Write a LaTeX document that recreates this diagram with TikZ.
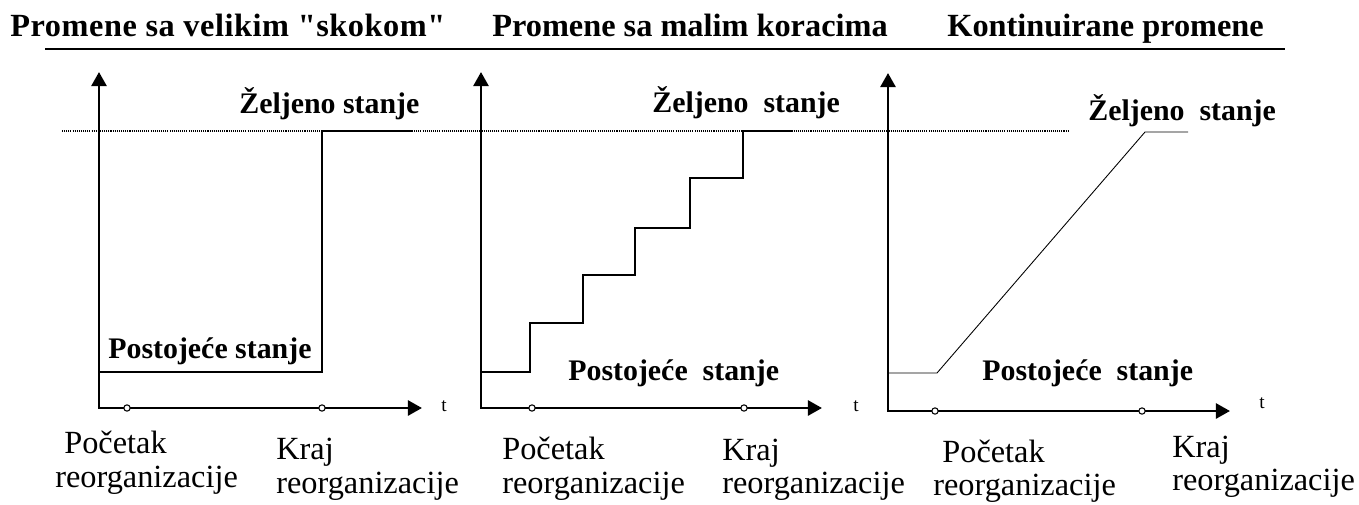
\documentclass[tikz,border=0pt]{standalone}
\usepackage{fontspec}
\setmainfont{Liberation Serif}
\newfontfamily\razmaknut{Liberation Serif}[LetterSpace=1.7]
\usetikzlibrary{arrows.meta}

\begin{document}
\begin{tikzpicture}[x=0.02cm,y=-0.02cm,>={Triangle[length=8pt,width=8.5pt]},
    axis/.style={<->,line width=1.6pt},
    curve/.style={line width=0.6pt},
    tdot/.style={circle,draw,fill=white,inner sep=0pt,minimum size=3.6pt,line width=0.6pt},
    title/.style={font=\bfseries\fontsize{18.4}{20}\selectfont,anchor=base west,inner sep=0pt},
    state/.style={font=\bfseries\fontsize{17}{19}\selectfont,anchor=base west,inner sep=0pt},
    lbl/.style={font=\fontsize{18.4}{19}\selectfont,anchor=base west,inner sep=0pt},
    tlbl/.style={font=\fontsize{11}{12}\selectfont,anchor=base west,inner sep=0pt}]
    \useasboundingbox (0,0) rectangle (1359,504);
    % naslovi
    \node[title] (n1) at (10,36) {\razmaknut\bfseries Promene sa velikim \symbol{34}skokom\symbol{34}};
    \node[title] (n2) at (492,36) {Promene sa malim koracima};
    \node[title] (n3) at (947,36) {Kontinuirane promene};
    \coordinate (l0) at (45,49);
    \coordinate (l1) at (1285,49);
    \draw[line width=0.9pt] (l0) -- (l1);
    % zeljeno stanje
    \coordinate (d0) at (62,131);
    \coordinate (d1) at (1068,131);
    \draw[line width=0.6pt,dash pattern=on 0.6pt off 0.6pt] (d0) -- (d1);
    % ose
    \coordinate (o1) at (99,408);
    \coordinate (y1) at (99,72);
    \coordinate (x1) at (422,408);
    \coordinate (o2) at (481,408);
    \coordinate (y2) at (481,72);
    \coordinate (x2) at (822,408);
    \coordinate (o3) at (888,411);
    \coordinate (y3) at (888,73);
    \coordinate (x3) at (1230,411);
    \draw[axis] (y1) -- (o1) -- (x1);
    \draw[axis] (y2) -- (o2) -- (x2);
    \draw[axis] (y3) -- (o3) -- (x3);
    \node[tlbl] (t1) at (441,411) {t};
    \node[tlbl] (t2) at (853,411) {t};
    \node[tlbl] (t3) at (1259,408) {t};
    % veliki skok
    \coordinate (s1) at (99,372);
    \coordinate (z1) at (412,131);
    \draw[curve] (s1) -| (322,131) -- (z1);
    % mali koraci
    \coordinate (s2) at (481,372);
    \coordinate (z2) at (793,131);
    \draw[curve] (s2) -| (530,323) -| (583,275) -| (635,228) -| (690,178)
      -| (743,131) -- (z2);
    % kontinuirano
    \coordinate (s3) at (887,373);
    \coordinate (k3) at (937,373);
    \coordinate (v3) at (1145,132);
    \coordinate (z3) at (1188,132);
    \draw[line width=0.5pt] (s3) -- (k3) -- (v3) -- (z3);
    % tacke na vremenskoj osi
    \node[tdot] (p1) at (127,408) {};
    \node[tdot] (q1) at (322,408) {};
    \node[tdot] (p2) at (532,408) {};
    \node[tdot] (q2) at (744,408) {};
    \node[tdot] (p3) at (935,411) {};
    \node[tdot] (q3) at (1142,411) {};
    % stanja
    \node[state] (ze1) at (239,113) {Željeno stanje};
    \node[state] (ze2) at (652,112) {Željeno~~stanje};
    \node[state] (ze3) at (1088,120) {Željeno~~stanje};
    \node[state] (po1) at (108,358) {Postojeće stanje};
    \node[state] (po2) at (568,380) {Postojeće~~stanje};
    \node[state] (po3) at (982,380) {Postojeće~~stanje};
    % pocetak i kraj
    \node[lbl] (pa1) at (64,453) {Početak};
    \node[lbl] (pb1) at (55,487) {reorganizacije};
    \node[lbl] (ka1) at (276,459) {Kraj};
    \node[lbl] (kb1) at (276,493) {reorganizacije};
    \node[lbl] (pa2) at (502,459) {Početak};
    \node[lbl] (pb2) at (502,493) {reorganizacije};
    \node[lbl] (ka2) at (722,460) {Kraj};
    \node[lbl] (kb2) at (722,493) {reorganizacije};
    \node[lbl] (pa3) at (942,462) {Početak};
    \node[lbl] (pb3) at (933,495) {reorganizacije};
    \node[lbl] (ka3) at (1172,457) {Kraj};
    \node[lbl] (kb3) at (1172,490) {reorganizacije};
\end{tikzpicture}
\end{document}
